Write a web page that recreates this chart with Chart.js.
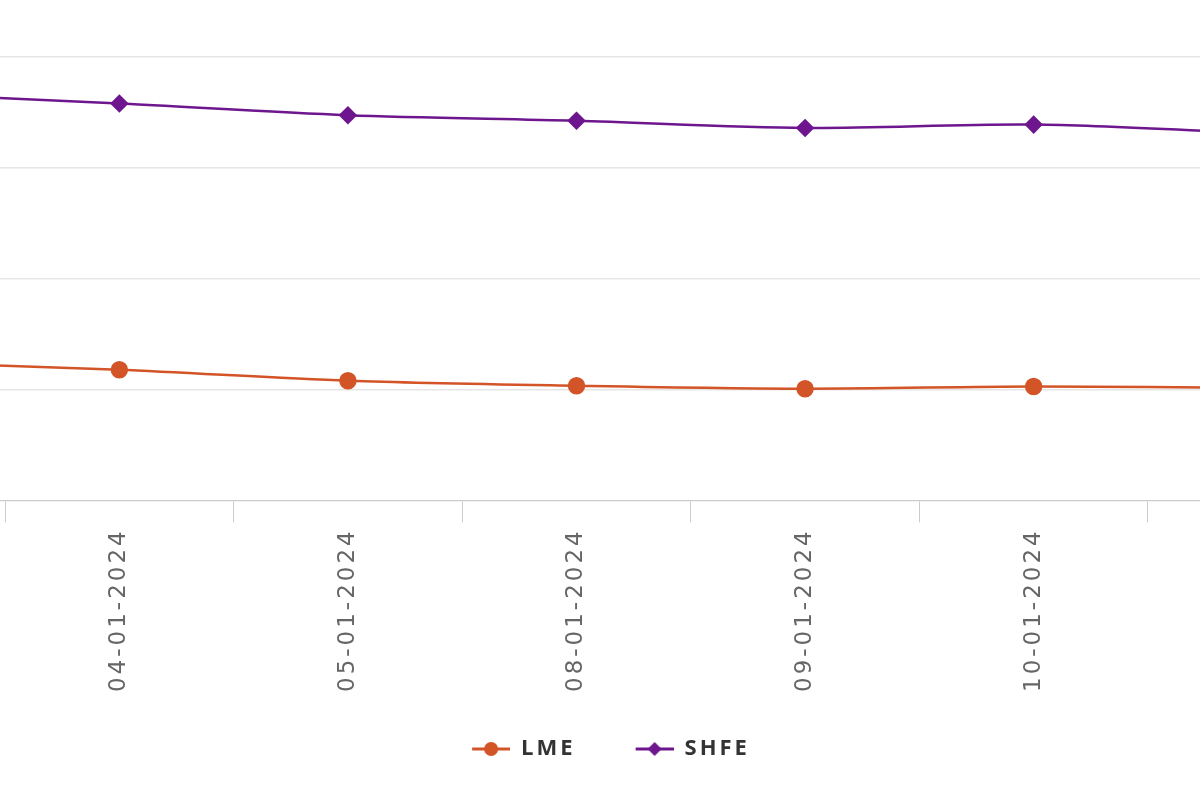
<!DOCTYPE html>
<html>
<head>
<meta charset="utf-8">
<title>LME vs SHFE</title>
<script src="https://cdn.jsdelivr.net/npm/chart.js@4.4.1/dist/chart.umd.min.js"></script>
<style>
  html, body { margin: 0; padding: 0; background: #fff; overflow: hidden; }
  #wrap { position: absolute; left: -260px; top: 0; width: 1696px; height: 800px; }
</style>
</head>
<body>
<div id="wrap"><canvas id="chartPrices"></canvas></div>
<script>
// Data
const dates = ["03-01-2024", "04-01-2024", "05-01-2024", "08-01-2024", "09-01-2024", "10-01-2024", "11-01-2024"];
const lmeValues = [124.6, 117.8, 107.9, 103.4, 100.7, 102.7, 101.3];
const shfeValues = [367.5, 358.0, 347.5, 342.5, 336.0, 339.0, 331.0];

const lmeColor = "#d35427";
const shfeColor = "#6e168e";

// Legend icon: blank lead-in, then a short line with the marker on it
function legendIcon(color, style) {
  const c = document.createElement("canvas");
  c.width = 58;
  c.height = 18;
  const g = c.getContext("2d");
  g.strokeStyle = color;
  g.fillStyle = color;
  g.lineWidth = 3;
  g.beginPath();
  g.moveTo(20, 9);
  g.lineTo(58, 9);
  g.stroke();
  g.beginPath();
  if (style === "circle") {
    g.arc(39, 9, 7, 0, Math.PI * 2);
  } else {
    g.moveTo(39, 2);
    g.lineTo(46, 9);
    g.lineTo(39, 16);
    g.lineTo(32, 9);
    g.closePath();
  }
  g.fill();
  return c;
}

const icons = [legendIcon(lmeColor, "circle"), legendIcon(shfeColor, "diamond")];

// spaced-out text like the original
const spacing = {
  id: "spacing",
  beforeLayout(chart) { chart.ctx.letterSpacing = "3px"; },
  beforeDraw(chart) { chart.ctx.letterSpacing = "3px"; },
};

new Chart(document.getElementById("chartPrices"), {
  type: "line",
  data: {
    labels: dates,
    datasets: [
      {
        label: "LME",
        data: lmeValues,
        borderColor: lmeColor,
        backgroundColor: lmeColor,
        borderWidth: 2.5,
        pointStyle: "circle",
        pointRadius: 7.5,
        pointHoverRadius: 8,
        tension: 0.3,
      },
      {
        label: "SHFE",
        data: shfeValues,
        borderColor: shfeColor,
        backgroundColor: shfeColor,
        borderWidth: 2.5,
        pointStyle: "rectRot",
        pointRadius: 7.5,
        pointHoverRadius: 8,
        tension: 0.3,
      },
    ],
  },
  options: {
    responsive: true,
    maintainAspectRatio: false,
    animation: false,
    layout: { padding: { top: 57, left: 36.5, right: 10.5, bottom: 30 } },
    scales: {
      x: {
        offset: true,
        grid: { offset: true, drawOnChartArea: false, drawTicks: true, tickLength: 22, color: "#cccccc" },
        border: { display: true, color: "#cccccc", width: 1 },
        ticks: {
          minRotation: 90,
          maxRotation: 90,
          padding: 6,
          color: "#666666",
          font: { family: "DejaVu Sans", size: 23 },
        },
      },
      y: {
        position: "right",
        min: 0,
        max: 400,
        ticks: { stepSize: 100, display: false },
        grid: { color: "#e6e6e6", lineWidth: 1.5, drawTicks: false },
        border: { display: false },
        afterFit(scale) { scale.width = 49; },
      },
    },
    plugins: {
      legend: {
        position: "bottom",
        labels: {
          usePointStyle: true,
          pointStyleWidth: 58,
          padding: 40,
          color: "#333333",
          font: { family: "Open Sans", size: 22, weight: "bold" },
          generateLabels(chart) {
            return chart.data.datasets.map((ds, i) => ({
              text: ds.label,
              pointStyle: icons[i],
              fillStyle: ds.borderColor,
              strokeStyle: ds.borderColor,
              fontColor: "#333333",
              lineWidth: 0,
              hidden: !chart.isDatasetVisible(i),
              datasetIndex: i,
            }));
          },
        },
      },
      tooltip: { enabled: false },
    },
  },
  plugins: [spacing],
});
</script>
</body>
</html>
